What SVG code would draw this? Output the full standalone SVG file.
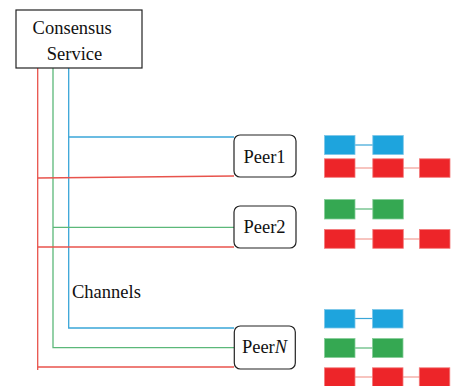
<svg xmlns="http://www.w3.org/2000/svg" width="451" height="386" viewBox="0 0 451 386">
<style>
text{font-family:"Liberation Serif","Tinos","DejaVu Serif",serif;font-size:18.5px;fill:#111}
.box{fill:#fff;stroke:#222;stroke-width:1.2}
.r{stroke:#e8534c;stroke-width:1.3;fill:none}
.g{stroke:#5bb879;stroke-width:1.3;fill:none}
.b{stroke:#3aa6d8;stroke-width:1.3;fill:none}
.bb{fill:#1ea4dd;stroke:#7cc6e8;stroke-width:0.8}
.rb{fill:#ed2529;stroke:#f27a7a;stroke-width:0.8}
.gb{fill:#35a852;stroke:#86cc98;stroke-width:0.8}
.bl{stroke:#3aa6d8;stroke-width:1.2}
.rl{stroke:#f08a80;stroke-width:1.2}
.gl{stroke:#5bb879;stroke-width:1.2}
</style>
<g id="connectors">
<polyline class="r" points="37.7,68 37.7,370"/>
<polyline class="g" points="53,68 53,347.7 234,347.7"/>
<polyline class="b" points="68.7,68 68.7,328 234,328"/>
<line class="b" x1="68.7" y1="137" x2="234" y2="137"/>
<line class="r" x1="37.7" y1="178" x2="234" y2="176"/>
<line class="g" x1="53" y1="227.3" x2="234" y2="227.3"/>
<line class="r" x1="37.7" y1="247" x2="234" y2="247"/>
<line class="r" x1="37.7" y1="367" x2="234" y2="367"/>
</g>
<g id="consensus">
<rect class="box" x="16" y="10" width="126" height="58"/>
<text x="72.2" y="33.5" text-anchor="middle">Consensus</text>
<text x="74.5" y="59.5" text-anchor="middle">Service</text>
</g>
<g id="channels-label"><text x="72" y="298">Channels</text></g>
<g id="peer1">
<rect class="box" x="234" y="135" width="62" height="42" rx="6"/>
<text x="264.5" y="162.5" text-anchor="middle">Peer1</text>
</g>
<g id="peer2">
<rect class="box" x="234" y="206" width="62" height="42" rx="6"/>
<text x="264.5" y="233.3" text-anchor="middle">Peer2</text>
</g>
<g id="peerN">
<rect class="box" x="234.3" y="326" width="61" height="43" rx="6"/>
<text x="264.5" y="353.3" text-anchor="middle">Peer<tspan font-style="italic">N</tspan></text>
</g>
<g id="chain-peer1">
<line class="bl" x1="355" y1="145" x2="373" y2="145"/>
<rect class="bb" x="324.5" y="135.5" width="30.5" height="19"/>
<rect class="bb" x="372.8" y="135.5" width="30.5" height="19"/>
<line class="rl" x1="355" y1="168" x2="420" y2="168"/>
<rect class="rb" x="324.5" y="158.8" width="30.5" height="18.5"/>
<rect class="rb" x="372.8" y="158.8" width="30.5" height="18.5"/>
<rect class="rb" x="419.5" y="158.8" width="30.5" height="18.5"/>
</g>
<g id="chain-peer2">
<line class="gl" x1="355" y1="209" x2="373" y2="209"/>
<rect class="gb" x="324.5" y="199.5" width="30.5" height="19.5"/>
<rect class="gb" x="372.8" y="199.5" width="30.5" height="19.5"/>
<line class="rl" x1="355" y1="239" x2="420" y2="239"/>
<rect class="rb" x="324.5" y="229.5" width="30.5" height="18.8"/>
<rect class="rb" x="372.8" y="229.5" width="30.5" height="18.8"/>
<rect class="rb" x="419.5" y="229.5" width="30.5" height="18.8"/>
</g>
<g id="chain-peerN">
<line class="bl" x1="355" y1="318.5" x2="373" y2="318.5"/>
<rect class="bb" x="324.5" y="309.5" width="30.5" height="18.5"/>
<rect class="bb" x="372.5" y="309.5" width="30.5" height="18.5"/>
<line class="gl" x1="355" y1="348" x2="373" y2="348"/>
<rect class="gb" x="324.5" y="338.5" width="30.5" height="19"/>
<rect class="gb" x="372.5" y="338.5" width="30.5" height="19"/>
<line class="rl" x1="355" y1="377" x2="420" y2="377"/>
<rect class="rb" x="324.5" y="367.8" width="30.5" height="19"/>
<rect class="rb" x="372.5" y="367.8" width="30.5" height="19"/>
<rect class="rb" x="419.3" y="367.8" width="30.5" height="19"/>
</g>
</svg>
